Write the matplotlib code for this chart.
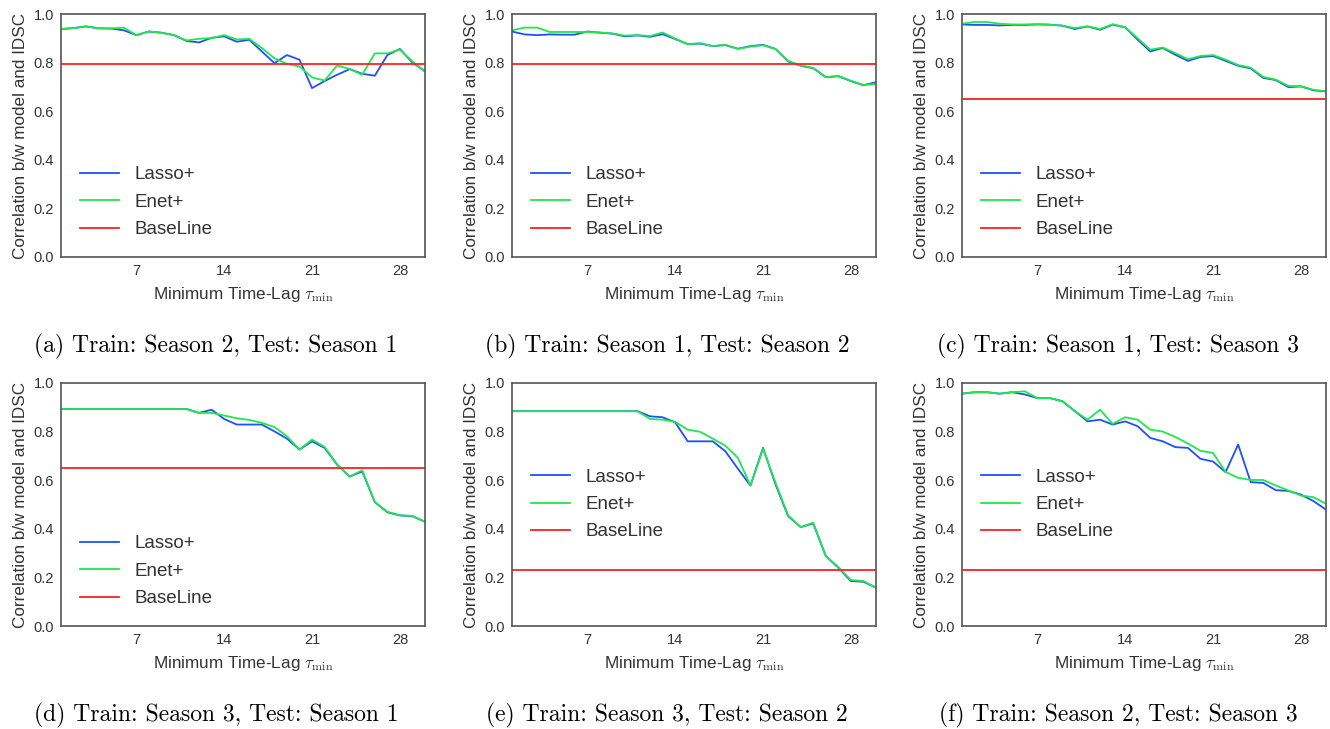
import matplotlib
matplotlib.use("Agg")
import matplotlib.pyplot as plt
import numpy as np

plt.rcParams["font.family"] = ["Liberation Sans", "DejaVu Sans"]
plt.rcParams["mathtext.fontset"] = "cm"

lags = np.arange(1, 31)

# (a) Train: Season 2, Test: Season 1
lasso_a = [0.938, 0.942, 0.949, 0.941, 0.940, 0.933, 0.913, 0.928, 0.923, 0.913,
           0.889, 0.883, 0.902, 0.908, 0.886, 0.894, 0.846, 0.798, 0.831, 0.812,
           0.695, 0.724, 0.750, 0.773, 0.754, 0.746, 0.831, 0.856, 0.800, 0.765]
enet_a = [0.938, 0.942, 0.949, 0.941, 0.941, 0.944, 0.913, 0.928, 0.923, 0.913,
          0.891, 0.898, 0.901, 0.913, 0.895, 0.898, 0.860, 0.818, 0.795, 0.784,
          0.739, 0.726, 0.788, 0.774, 0.750, 0.838, 0.838, 0.853, 0.805, 0.762]
base_a = 0.794

# (b) Train: Season 1, Test: Season 2
lasso_b = [0.928, 0.916, 0.913, 0.916, 0.915, 0.915, 0.928, 0.923, 0.919, 0.908,
           0.912, 0.906, 0.917, 0.897, 0.876, 0.878, 0.868, 0.872, 0.857, 0.868,
           0.873, 0.856, 0.805, 0.787, 0.777, 0.740, 0.744, 0.724, 0.707, 0.719]
enet_b = [0.933, 0.944, 0.944, 0.926, 0.926, 0.926, 0.926, 0.924, 0.920, 0.911,
          0.913, 0.909, 0.924, 0.899, 0.876, 0.880, 0.868, 0.873, 0.856, 0.866,
          0.871, 0.856, 0.807, 0.788, 0.778, 0.740, 0.745, 0.725, 0.708, 0.712]
base_b = 0.794

# (c) Train: Season 1, Test: Season 3
lasso_c = [0.957, 0.955, 0.955, 0.953, 0.955, 0.955, 0.957, 0.956, 0.952, 0.938,
           0.949, 0.935, 0.956, 0.945, 0.894, 0.846, 0.860, 0.832, 0.807, 0.823,
           0.827, 0.807, 0.787, 0.776, 0.737, 0.728, 0.699, 0.702, 0.686, 0.681]
enet_c = [0.960, 0.967, 0.967, 0.960, 0.957, 0.957, 0.958, 0.956, 0.952, 0.942,
          0.949, 0.938, 0.958, 0.946, 0.900, 0.853, 0.862, 0.839, 0.814, 0.827,
          0.831, 0.812, 0.790, 0.779, 0.741, 0.730, 0.704, 0.703, 0.688, 0.682]
base_c = 0.649

# (d) Train: Season 3, Test: Season 1
lasso_d = [0.893] * 11 + [0.877, 0.890, 0.852, 0.829, 0.829, 0.829, 0.801, 0.771,
                          0.726, 0.760, 0.733, 0.664, 0.615, 0.636, 0.510, 0.468,
                          0.455, 0.452, 0.429]
enet_d = [0.893] * 11 + [0.877, 0.877, 0.866, 0.855, 0.848, 0.836, 0.819, 0.781,
                         0.726, 0.767, 0.737, 0.664, 0.615, 0.641, 0.510, 0.470,
                         0.456, 0.453, 0.429]
base_d = 0.649

# (e) Train: Season 3, Test: Season 2
lasso_e = [0.884] * 11 + [0.863, 0.859, 0.838, 0.760, 0.760, 0.760, 0.719, 0.647,
                          0.578, 0.733, 0.582, 0.452, 0.407, 0.422, 0.288, 0.240,
                          0.185, 0.182, 0.158]
enet_e = [0.884] * 11 + [0.852, 0.849, 0.840, 0.808, 0.799, 0.771, 0.742, 0.692,
                         0.578, 0.729, 0.589, 0.455, 0.407, 0.425, 0.288, 0.242,
                         0.189, 0.185, 0.158]
base_e = 0.229

# (f) Train: Season 2, Test: Season 3
lasso_f = [0.956, 0.962, 0.962, 0.956, 0.962, 0.953, 0.938, 0.938, 0.925, 0.884,
           0.842, 0.849, 0.829, 0.842, 0.822, 0.774, 0.760, 0.736, 0.733, 0.688,
           0.677, 0.633, 0.747, 0.592, 0.589, 0.559, 0.556, 0.541, 0.514, 0.479]
enet_f = [0.956, 0.962, 0.962, 0.956, 0.962, 0.966, 0.938, 0.938, 0.925, 0.884,
          0.849, 0.890, 0.832, 0.859, 0.849, 0.808, 0.800, 0.778, 0.751, 0.721,
          0.712, 0.634, 0.610, 0.601, 0.601, 0.578, 0.558, 0.537, 0.530, 0.503]
base_f = 0.229

panels = [
    ("(a) Train: Season 2, Test: Season 1", lasso_a, enet_a, base_a, "lower left"),
    ("(b) Train: Season 1, Test: Season 2", lasso_b, enet_b, base_b, "lower left"),
    ("(c) Train: Season 1, Test: Season 3", lasso_c, enet_c, base_c, "lower left"),
    ("(d) Train: Season 3, Test: Season 1", lasso_d, enet_d, base_d, "lower left"),
    ("(e) Train: Season 3, Test: Season 2", lasso_e, enet_e, base_e, "center left"),
    ("(f) Train: Season 2, Test: Season 3", lasso_f, enet_f, base_f, "center left"),
]

W, H = 1330, 729
fig = plt.figure(figsize=(W / 100, H / 100), dpi=100)

lefts = [61, 512, 962]
tops = [14, 383]
ax_w, ax_h = 364, 243
cap_x = [216, 667, 1118]
cap_y = [346, 715]

text_col = "#333333"
for k, (caption, lasso, enet, base, loc) in enumerate(panels):
    r, c = divmod(k, 3)
    ax = fig.add_axes([lefts[c] / W, 1 - (tops[r] + ax_h) / H, ax_w / W, ax_h / H])
    ax.plot(lags, lasso, color="#1f4fff", lw=1.3, label="Lasso+")
    ax.plot(lags, enet, color="#1ee84a", lw=1.3, label="Enet+")
    ax.axhline(base, color="#ff2020", lw=1.3, label="BaseLine")
    ax.set_xlim(1, 30)
    ax.set_ylim(0, 1.0)
    ax.set_xticks([7, 14, 21, 28])
    ax.set_yticks(np.arange(0, 1.01, 0.2))
    ax.set_yticklabels([f"{v:.1f}" for v in np.arange(0, 1.01, 0.2)])
    ax.tick_params(length=0, labelsize=10.5, colors=text_col, pad=5)
    for s in ax.spines.values():
        s.set_color("#555555")
        s.set_linewidth(1.2)
    ax.set_xlabel(r"Minimum Time-Lag $\tau_{\min}$", fontsize=12.3, color=text_col, labelpad=5)
    ax.set_ylabel("Correlation b/w model and IDSC", fontsize=12.3, color=text_col, labelpad=4)
    leg = ax.legend(loc=loc, frameon=False, fontsize=13.5, handlelength=2.1,
                    handletextpad=0.8, labelspacing=0.55, borderaxespad=0.6)
    for t in leg.get_texts():
        t.set_color(text_col)
    fig.text(cap_x[c] / W, 1 - cap_y[r] / H, caption, ha="center", va="center",
             fontsize=17, family="cmr10", color="black")

fig.savefig("out.png", dpi=100)
